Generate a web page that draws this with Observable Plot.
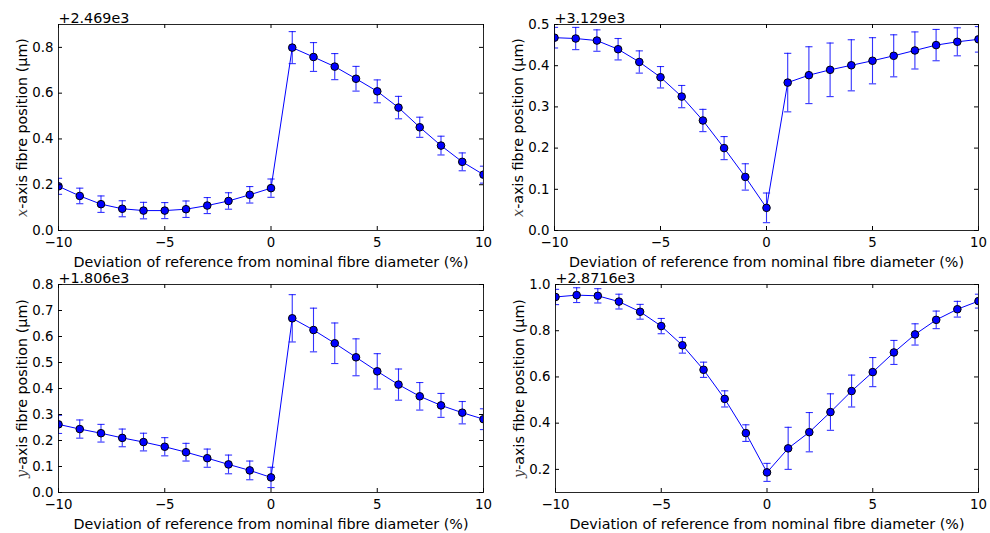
<!DOCTYPE html>
<html><head><meta charset="utf-8">
<script src="https://cdn.jsdelivr.net/npm/d3@7"></script>
<script src="https://cdn.jsdelivr.net/npm/@observablehq/plot@0.6"></script>
<style>
body{margin:0;background:#fff;}
#fig{position:relative;width:990px;height:533px;background:#fff;overflow:hidden}
#fig > svg{position:absolute}
</style></head><body><div id="fig"></div>
<script>
// Deviation of reference from nominal fibre diameter (%)
const deviation = [-10,-9,-8,-7,-6,-5,-4,-3,-2,-1,0,1,2,3,4,5,6,7,8,9,10];
const xTicks = [-10,-5,0,5,10];
const xLabel = "Deviation of reference from nominal fibre diameter (%)";

// top-left: x-axis fibre position, offset +2.469e3
const panelAValues = [0.193,0.151,0.115,0.095,0.087,0.087,0.093,0.109,0.129,0.156,0.185,0.799,0.758,0.716,0.663,0.608,0.537,0.451,0.371,0.300,0.244];
const panelAErrors = [0.035,0.034,0.036,0.035,0.036,0.035,0.036,0.035,0.036,0.036,0.040,0.070,0.063,0.057,0.054,0.050,0.049,0.044,0.041,0.039,0.037];
const panelATicks = [0,0.2,0.4,0.6,0.8];
// top-right: x-axis fibre position, offset +3.129e3
const panelBValues = [0.468,0.466,0.461,0.440,0.409,0.372,0.325,0.267,0.200,0.130,0.055,0.359,0.377,0.390,0.401,0.412,0.424,0.437,0.450,0.458,0.464];
const panelBErrors = [0.025,0.027,0.026,0.026,0.027,0.026,0.027,0.027,0.028,0.032,0.036,0.071,0.069,0.065,0.062,0.056,0.051,0.045,0.038,0.034,0.031];
const panelBTicks = [0,0.1,0.2,0.3,0.4,0.5];
// bottom-left: y-axis fibre position, offset +1.806e3
const panelCValues = [0.262,0.244,0.228,0.210,0.194,0.176,0.155,0.132,0.108,0.085,0.058,0.670,0.625,0.574,0.520,0.466,0.415,0.370,0.335,0.307,0.282];
const panelCErrors = [0.035,0.035,0.034,0.034,0.034,0.035,0.034,0.035,0.036,0.036,0.039,0.091,0.084,0.078,0.071,0.068,0.060,0.053,0.046,0.043,0.040];
const panelCTicks = [0,0.1,0.2,0.3,0.4,0.5,0.6,0.7,0.8];
// bottom-right: y-axis fibre position, offset +2.8716e3
const panelDValues = [0.946,0.954,0.951,0.926,0.882,0.820,0.737,0.631,0.505,0.357,0.187,0.291,0.361,0.448,0.539,0.621,0.706,0.784,0.847,0.893,0.928];
const panelDErrors = [0.033,0.032,0.031,0.032,0.032,0.033,0.034,0.033,0.035,0.036,0.039,0.091,0.085,0.079,0.069,0.063,0.052,0.046,0.038,0.034,0.030];
const panelDTicks = [0.2,0.4,0.6,0.8,1.0];

const capSymbol = {draw(ctx, size){ const r = Math.sqrt(size/Math.PI); ctx.moveTo(-r,0); ctx.lineTo(r,0); }};
const minusFmt = d => d < 0 ? "\u2212" + (-d) : String(d);
const fig = document.getElementById("fig");
const LABEL_FS = 14.3;

function panel({values, errors, yDomain, yTicks, offset, letter, left, top, width, height, margin}) {
  const data = deviation.map((x, i) => ({x, y: values[i], e: errors[i]}));
  const pw = width - margin.left - margin.right;
  const ph = height - margin.top - margin.bottom;
  const yLabelRest = "-axis fibre position (\u03bcm)";
  const yLabel = letter + yLabelRest;
  const tl = 4;
  const svg = Plot.plot({
    width, height,
    marginLeft: margin.left, marginRight: margin.right, marginTop: margin.top, marginBottom: margin.bottom,
    style: {fontFamily: "DejaVu Sans", fontSize: "13.3px", color: "black", background: "transparent", overflow: "visible"},
    x: {domain: [-10, 10]},
    y: {domain: yDomain},
    marks: [
      Plot.ruleX(data, {x: "x", y1: d => d.y - d.e, y2: d => d.y + d.e, stroke: "blue", strokeOpacity: 0.8, strokeWidth: 1.1, clip: true}),
      Plot.dot(data, {x: "x", y: d => d.y - d.e, symbol: capSymbol, r: 3.6, stroke: "blue", strokeOpacity: 0.8, fill: "none", strokeWidth: 1.1, clip: true}),
      Plot.dot(data, {x: "x", y: d => d.y + d.e, symbol: capSymbol, r: 3.6, stroke: "blue", strokeOpacity: 0.8, fill: "none", strokeWidth: 1.1, clip: true}),
      Plot.line(data, {x: "x", y: "y", stroke: "blue", strokeWidth: 1, clip: true}),
      Plot.dot(data, {x: "x", y: "y", r: 3.8, fill: "blue", stroke: "black", strokeWidth: 1, clip: true}),
      Plot.tickX(xTicks, {x: d => d, insetTop: ph - tl, stroke: "black"}),
      Plot.tickX(xTicks, {x: d => d, insetBottom: ph - tl, stroke: "black"}),
      Plot.tickY(yTicks, {y: d => d, insetRight: pw - tl, stroke: "black"}),
      Plot.tickY(yTicks, {y: d => d, insetLeft: pw - tl, stroke: "black"}),
      Plot.frame({stroke: "black", strokeOpacity: 0.85}),
      Plot.axisX({ticks: xTicks, tickSize: 0, tickPadding: 7, tickFormat: minusFmt, label: null}),
      Plot.axisY({ticks: yTicks, tickSize: 0, tickPadding: 5, tickFormat: d3.format(".1f"), label: null}),
      Plot.text([xLabel], {text: d => d, frameAnchor: "bottom", dy: 31.5, lineAnchor: "middle", fontSize: LABEL_FS}),
      Plot.text([yLabel], {text: d => d, frameAnchor: "left", textAnchor: "middle", rotate: -90, dx: -36.5, lineAnchor: "middle", fontSize: LABEL_FS}),
      Plot.text([offset], {text: d => d, frameAnchor: "top-left", textAnchor: "start", lineAnchor: "bottom", dy: -2, fontSize: LABEL_FS})
    ]
  });
  d3.select(svg).selectAll("text").filter(function(){ return this.textContent.indexOf(yLabelRest) >= 0; }).each(function(){
    const t = d3.select(this);
    t.text(null);
    t.append("tspan").attr("font-family", "DejaVu Serif").attr("font-style", "italic").attr("fill", "#444").text(letter);
    t.append("tspan").text(yLabelRest);
  });
  svg.style.left = left + "px";
  svg.style.top = top + "px";
  fig.appendChild(svg);
}

panel({values: panelAValues, errors: panelAErrors, yDomain: [0, 0.9], yTicks: panelATicks, offset: "+2.469e3", letter: "x",
  left: 0, top: 0, width: 495, height: 265, margin: {left: 58, right: 12, top: 24, bottom: 35}});
panel({values: panelBValues, errors: panelBErrors, yDomain: [0, 0.5], yTicks: panelBTicks, offset: "+3.129e3", letter: "x",
  left: 495, top: 0, width: 495, height: 265, margin: {left: 59, right: 12, top: 24, bottom: 35}});
panel({values: panelCValues, errors: panelCErrors, yDomain: [0, 0.8], yTicks: panelCTicks, offset: "+1.806e3", letter: "y",
  left: 0, top: 265, width: 495, height: 268, margin: {left: 58, right: 12, top: 19, bottom: 41}});
panel({values: panelDValues, errors: panelDErrors, yDomain: [0.1, 1.0], yTicks: panelDTicks, offset: "+2.8716e3", letter: "y",
  left: 495, top: 265, width: 495, height: 268, margin: {left: 60, right: 12, top: 19, bottom: 41}});
</script></body></html>
